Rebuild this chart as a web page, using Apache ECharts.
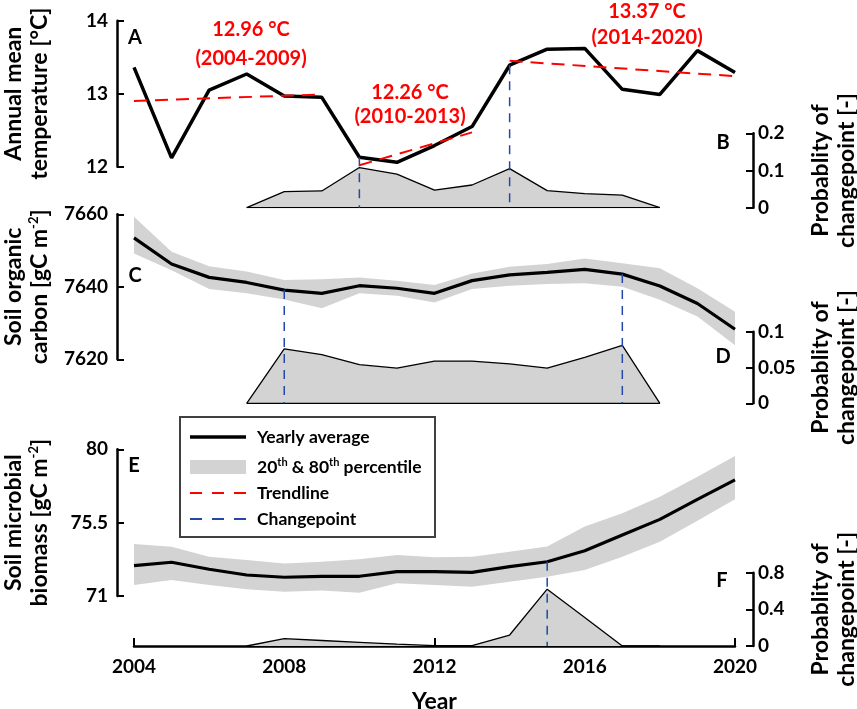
<!DOCTYPE html>
<html>
<head>
<meta charset="utf-8">
<script src="https://cdn.jsdelivr.net/npm/echarts@6/dist/echarts.min.js"></script>
<style>
html, body { margin: 0; padding: 0; background: #fff; }
#main { width: 857px; height: 709px; }
</style>
</head>
<body>
<div id="main"></div>
<script>
// years on the shared x axis
var years = [2004, 2005, 2006, 2007, 2008, 2009, 2010, 2011, 2012, 2013, 2014, 2015, 2016, 2017, 2018, 2019, 2020];
// years covered by the changepoint probability polygons
var probYears = [2007, 2008, 2009, 2010, 2011, 2012, 2013, 2014, 2015, 2016, 2017, 2018];

// A: annual mean temperature
var tempMean = [13.36, 12.12, 13.05, 13.27, 12.97, 12.95, 12.13, 12.06, 12.29, 12.55, 13.39, 13.61, 13.62, 13.06, 12.99, 13.59, 13.29];
// trendlines per period
var trendFrom = [2004, 2010, 2014];
var trendTo = [2009, 2013, 2020];
var trendFromVal = [12.90, 12.02, 13.45];
var trendToVal = [12.99, 12.47, 13.24];
var trendText = ['12.96 °C', '12.26 °C', '13.37 °C'];
var trendPeriod = ['(2004-2009)', '(2010-2013)', '(2014-2020)'];

// B: probability of changepoint (temperature)
var probB = [0, 0.043, 0.045, 0.108, 0.090, 0.047, 0.061, 0.105, 0.046, 0.038, 0.034, 0];

// C: soil organic carbon
var socMean = [7653.5, 7646.3, 7642.6, 7641.2, 7639.1, 7638.2, 7640.3, 7639.6, 7638.2, 7641.7, 7643.3, 7644.0, 7644.8, 7643.5, 7640.2, 7635.4, 7628.3];
var socLow = [7649.2, 7644.6, 7639.4, 7638.2, 7636.5, 7634.1, 7638.2, 7637.5, 7635.7, 7639.4, 7640.3, 7640.8, 7641.0, 7640.0, 7636.4, 7631.8, 7623.9];
var socHigh = [7659.3, 7649.7, 7645.7, 7644.2, 7641.9, 7642.1, 7642.6, 7641.7, 7640.5, 7643.7, 7645.5, 7646.3, 7647.8, 7646.5, 7645.1, 7639.6, 7633.1];

// D: probability of changepoint (SOC)
var probD = [0, 0.076, 0.068, 0.054, 0.049, 0.059, 0.059, 0.055, 0.049, 0.064, 0.081, 0];

// E: soil microbial biomass
var mbcMean = [72.86, 73.07, 72.64, 72.29, 72.15, 72.21, 72.21, 72.49, 72.49, 72.45, 72.80, 73.10, 73.78, 74.74, 75.70, 76.93, 78.12];
var mbcLow = [71.67, 71.98, 71.67, 71.41, 71.26, 71.33, 71.20, 71.78, 71.67, 71.57, 71.88, 72.18, 72.59, 73.41, 74.33, 75.62, 76.93];
var mbcHigh = [74.19, 74.02, 73.41, 73.21, 73.00, 73.10, 73.25, 73.51, 73.37, 73.41, 73.72, 74.03, 75.26, 76.07, 77.09, 78.32, 79.59];

// F: probability of changepoint (MBC)
var probF = [0, 0.08, 0.06, 0.04, 0.02, 0.005, 0.005, 0.12, 0.62, 0.31, 0, 0];

// changepoint years per panel
var changeA = [2010, 2014];
var changeC = [2008, 2017];
var changeE = [2015];

var FONT = 'Lato';
var BAND = '#d3d3d3';
var RED = '#ff0000';
var BLUE = '#2349a8';

function pairs(xs, ys) {
    return xs.map(function (x, i) { return [x, ys[i]]; });
}
function plain(v) { return String(v); }

var chart = echarts.init(document.getElementById('main'));

// grids: [top, height]
var gridBox = [[20.7, 146], [133.3, 74.4], [214.3, 145], [331.7, 71.6], [449.3, 146.7], [572.7, 73.3]];
var grids = gridBox.map(function (g) {
    return { left: 134, right: 122, top: g[0], height: g[1], outerBoundsMode: 'none' };
});

var xAxes = gridBox.map(function (g, i) {
    return {
        gridIndex: i, type: 'value', min: 2004, max: 2020, interval: 4,
        show: i === 5,
        splitLine: { show: false },
        axisLine: { onZero: false, lineStyle: { color: '#000', width: 2.5 } },
        axisTick: { inside: true, length: 8, lineStyle: { color: '#000', width: 2 } },
        axisLabel: { color: '#000', fontFamily: FONT, fontWeight: 'bold', fontSize: 19, margin: 11, formatter: plain },
        name: i === 5 ? 'Year' : '',
        nameLocation: 'middle', nameGap: 44,
        nameTextStyle: { color: '#000', fontFamily: FONT, fontWeight: 'bold', fontSize: 23 }
    };
});

var supRich = { sup: { fontSize: 13, fontFamily: FONT, fontWeight: 'bold', color: '#000', verticalAlign: 'top', lineHeight: 26 } };

function yAxis(i, pos, min, max, interval, name) {
    var left = pos === 'left';
    return {
        gridIndex: i, type: 'value', position: pos, offset: left ? 17 : 18,
        min: min, max: max, interval: interval,
        splitLine: { show: false },
        axisLine: { show: true, onZero: false, lineStyle: { color: '#000', width: 2.5 } },
        axisTick: { show: true, inside: true, length: 7, lineStyle: { color: '#000', width: 2 } },
        axisLabel: { color: '#000', fontFamily: FONT, fontWeight: 'bold', fontSize: 19, margin: left ? 9 : 5, formatter: plain },
        name: name, nameLocation: 'middle', nameGap: left ? 64 : 55,
        nameTextStyle: { color: '#000', fontFamily: FONT, fontWeight: 'bold', fontSize: 23, lineHeight: 26, rich: supRich }
    };
}

var probName = 'Probablity of\nchangepoint [-]';
var yAxes = [
    yAxis(0, 'left', 12, 14, 1, 'Annual mean\ntemperature [°C]'),
    yAxis(1, 'right', 0, 0.2, 0.1, probName),
    yAxis(2, 'left', 7620, 7660, 20, 'Soil organic\ncarbon [gC m{sup|-2}]'),
    yAxis(3, 'right', 0, 0.1, 0.05, probName),
    yAxis(4, 'left', 71, 80, 4.5, 'Soil microbial\nbiomass [gC m{sup|-2}]'),
    yAxis(5, 'right', 0, 0.8, 0.4, probName)
];

function lineSeries(i, data, color, width, type, z) {
    return {
        type: 'line', xAxisIndex: i, yAxisIndex: i, data: data, symbol: 'none',
        lineStyle: { color: color, width: width, type: type || 'solid' }, z: z || 3, silent: true
    };
}
function probSeries(i, vals, withBase) {
    var s = [{
        type: 'line', xAxisIndex: i, yAxisIndex: i, data: pairs(probYears, vals), symbol: 'none',
        lineStyle: { color: '#000', width: 1.3 }, areaStyle: { color: BAND, opacity: 1 }, z: 2, silent: true
    }];
    if (withBase) {
        s.push(lineSeries(i, [[probYears[0], 0], [probYears[probYears.length - 1], 0]], '#000', 1.3, 'solid', 2));
    }
    return s;
}
// 20th-80th percentile band as one polygon drawn through the axis scales
function bandSeries(i, low, high, mean) {
    return [
        {
            type: 'custom', xAxisIndex: i, yAxisIndex: i, silent: true, z: 1,
            data: pairs(years, mean), encode: { x: 0, y: 1 },
            renderItem: function (params, api) {
                if (params.dataIndex !== 0) return null;
                var pts = [];
                years.forEach(function (yr, k) { pts.push(api.coord([yr, high[k]])); });
                for (var k = years.length - 1; k >= 0; k--) { pts.push(api.coord([years[k], low[k]])); }
                return { type: 'polygon', shape: { points: pts }, style: { fill: BAND } };
            }
        },
        lineSeries(i, pairs(years, mean), '#000', 3.2, 'solid', 4)
    ];
}

var series = [];
series.push(lineSeries(0, pairs(years, tempMean), '#000', 3.5, 'solid', 4));
trendFrom.forEach(function (y0, k) {
    series.push(lineSeries(0, [[y0, trendFromVal[k]], [trendTo[k], trendToVal[k]]], RED, 2, [13, 8], 5));
});
series = series.concat(probSeries(1, probB, true));
series = series.concat(bandSeries(2, socLow, socHigh, socMean));
series = series.concat(probSeries(3, probD, true));
series = series.concat(bandSeries(4, mbcLow, mbcHigh, mbcMean));
series = series.concat(probSeries(5, probF, false));

chart.setOption({
    animation: false,
    backgroundColor: '#fff',
    grid: grids,
    xAxis: xAxes,
    yAxis: yAxes,
    series: series
});

// ---- overlay: changepoint lines, annotations, panel letters, legend ----
var graphics = [];

function cpLines(years2, meanArr, topIdx, probIdx) {
    years2.forEach(function (yr) {
        var v = meanArr[years.indexOf(yr)];
        var p1 = chart.convertToPixel({ xAxisIndex: topIdx, yAxisIndex: topIdx }, [yr, v]);
        var p2 = chart.convertToPixel({ xAxisIndex: probIdx, yAxisIndex: probIdx }, [yr, 0]);
        graphics.push({
            type: 'line', z: 10, silent: true,
            shape: { x1: p1[0], y1: p1[1], x2: p2[0], y2: p2[1] },
            style: { stroke: BLUE, lineWidth: 1.5, lineDash: [9, 7] }
        });
    });
}
cpLines(changeA, tempMean, 0, 1);
cpLines(changeC, socMean, 2, 3);
cpLines(changeE, mbcMean, 4, 5);

function txt(x, y, s, font, color, extra) {
    var o = {
        type: 'text', z: 12, silent: true, x: x, y: y,
        style: {
            text: s, font: font, fill: color || '#000',
            textAlign: 'center', textVerticalAlign: 'middle', align: 'center', verticalAlign: 'middle'
        }
    };
    if (extra) { for (var k in extra) { o.style[k] = extra[k]; } }
    return o;
}

// trend annotations
var annoPos = [[251, 30, 59], [410, 93, 117], [647, 12, 38]];
annoPos.forEach(function (p, k) {
    graphics.push(txt(p[0], p[1], trendText[k], 'bold 20px ' + FONT, RED));
    graphics.push(txt(p[0], p[2], trendPeriod[k], 'bold 20px ' + FONT, RED));
});

// panel letters
var letters = [['A', 135, 38], ['B', 723, 143], ['C', 135, 276], ['D', 723, 357], ['E', 134, 466], ['F', 722, 581]];
letters.forEach(function (l) {
    graphics.push(txt(l[1], l[2], l[0], 'bold 20px ' + FONT, '#000'));
});

// legend box
graphics.push({
    type: 'rect', z: 11, silent: true,
    shape: { x: 180, y: 417, width: 255, height: 120 },
    style: { fill: '#fff', stroke: '#404040', lineWidth: 2 }
});
graphics.push({ type: 'line', z: 12, shape: { x1: 190, y1: 437, x2: 246, y2: 437 }, style: { stroke: '#000', lineWidth: 3.5 } });
graphics.push({ type: 'rect', z: 12, shape: { x: 190, y: 460, width: 56, height: 14 }, style: { fill: BAND } });
graphics.push({ type: 'line', z: 12, shape: { x1: 190, y1: 493, x2: 246, y2: 493 }, style: { stroke: RED, lineWidth: 2, lineDash: [12, 10] } });
graphics.push({ type: 'line', z: 12, shape: { x1: 190, y1: 519, x2: 246, y2: 519 }, style: { stroke: BLUE, lineWidth: 2, lineDash: [12, 10] } });
var legendText = ['Yearly average', '20{sup|th} & 80{sup|th} percentile', 'Trendline', 'Changepoint'];
var legendY = [437, 467, 493, 519];
legendText.forEach(function (s, k) {
    graphics.push(txt(257, legendY[k], s, 'bold 17.5px ' + FONT, '#000', {
        textAlign: 'left', align: 'left',
        rich: { sup: { font: 'bold 11px ' + FONT, fill: '#000', verticalAlign: 'top', lineHeight: 20 } }
    }));
});

chart.setOption({ graphic: graphics });
</script>
</body>
</html>
